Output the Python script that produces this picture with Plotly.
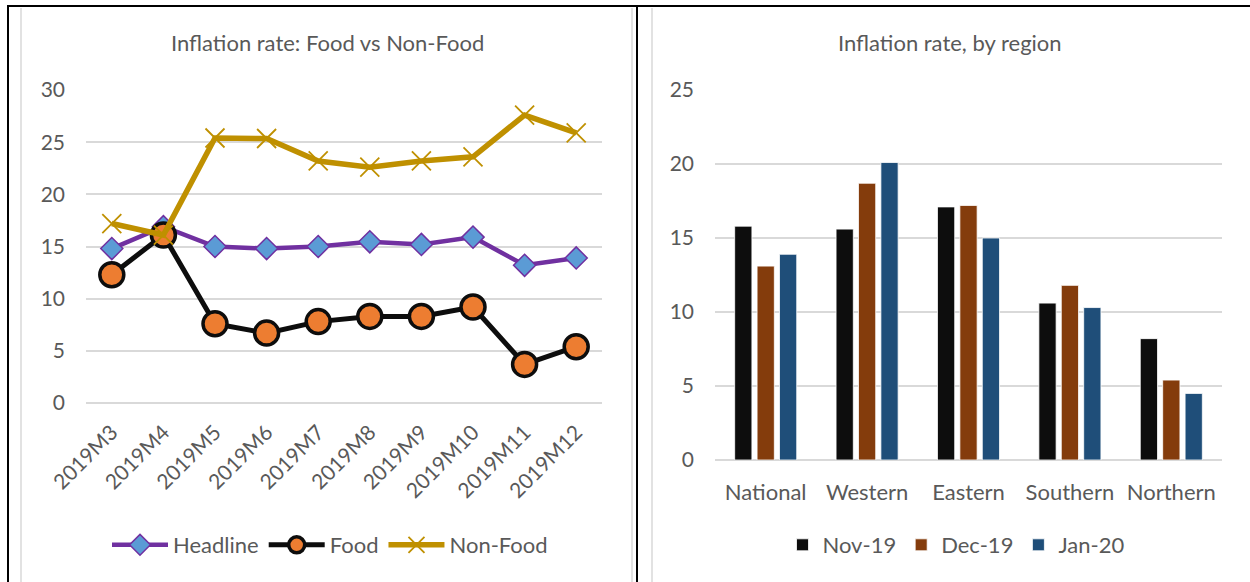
import plotly.graph_objects as go

W, H = 1250, 582

# ---- data: left chart ----
months = ["2019M3", "2019M4", "2019M5", "2019M6", "2019M7",
          "2019M8", "2019M9", "2019M10", "2019M11", "2019M12"]
headline = [14.8, 16.9, 15.0, 14.8, 15.0, 15.45, 15.2, 15.9, 13.2, 13.9]
food = [12.3, 16.1, 7.6, 6.7, 7.8, 8.3, 8.3, 9.2, 3.7, 5.4]
non_food = [17.2, 16.1, 25.4, 25.35, 23.2, 22.6, 23.2, 23.6, 27.6, 25.9]

# ---- data: right chart ----
regions = ["National", "Western", "Eastern", "Southern", "Northern"]
nov19 = [15.8, 15.6, 17.1, 10.6, 8.2]
dec19 = [13.1, 18.7, 17.2, 11.8, 5.4]
jan20 = [13.9, 20.1, 15.0, 10.3, 4.5]

FONT = "Lato, Carlito, Calibri, sans-serif"
GREY_TXT = "#595959"
GRID = "#d9d9d9"


def px(x):
    return x / W


def py(y):
    return 1 - y / H


fig = go.Figure()

fig.add_trace(go.Scatter(
    x=months, y=headline, name="Headline", mode="lines+markers",
    line=dict(color="#7030a0", width=4.5),
    marker=dict(symbol="diamond", size=17, color="#5b9bd5",
                line=dict(color="#7030a0", width=1.5)),
    xaxis="x", yaxis="y", legend="legend"))
fig.add_trace(go.Scatter(
    x=months, y=food, name="Food", mode="lines+markers",
    line=dict(color="#0d0d0d", width=5),
    marker=dict(symbol="circle", size=24, color="#ed7d31",
                line=dict(color="#0d0d0d", width=3.5)),
    xaxis="x", yaxis="y", legend="legend"))
fig.add_trace(go.Scatter(
    x=months, y=non_food, name="Non-Food", mode="lines+markers",
    line=dict(color="#bf9000", width=5.5),
    marker=dict(symbol="x-thin", size=19, color="#bf9000",
                line=dict(color="#bf9000", width=1.8)),
    xaxis="x", yaxis="y", legend="legend"))

for name, vals, col in [("Nov-19", nov19, "#0d0d0d"),
                        ("Dec-19", dec19, "#843c0c"),
                        ("Jan-20", jan20, "#1f4e79")]:
    fig.add_trace(go.Bar(
        x=regions, y=vals, name=name,
        marker=dict(color=col, line=dict(color="white", width=0.8)),
        xaxis="x2", yaxis="y2", legend="legend2"))

tickfont = dict(family=FONT, size=21, color=GREY_TXT)

fig.update_layout(
    width=W, height=H, autosize=False,
    margin=dict(l=0, r=0, t=0, b=0, pad=0, autoexpand=False),
    paper_bgcolor="white", plot_bgcolor="white",
    font=dict(family=FONT, color=GREY_TXT),
    barmode="group", bargap=0.337, bargroupgap=0.23,
    xaxis=dict(domain=[px(86), px(602)], type="category", range=[-0.5, 9.5],
               tickangle=-45, showgrid=False, showline=False, zeroline=False,
               ticks="", tickfont=tickfont, ticklabelstandoff=12,
               automargin=False, anchor="y"),
    yaxis=dict(domain=[py(403), py(90)], range=[0, 30], dtick=5,
               showgrid=True, gridcolor=GRID, gridwidth=1.5,
               zeroline=True, zerolinecolor=GRID, zerolinewidth=1.5,
               showline=False, ticks="", tickfont=tickfont,
               ticklabelstandoff=20, automargin=False, anchor="x"),
    xaxis2=dict(domain=[px(715), px(1222)], type="category",
                showgrid=False, showline=False, zeroline=False, ticks="",
                tickfont=dict(family=FONT, size=22, color=GREY_TXT),
                ticklabelstandoff=17, automargin=False, anchor="y2"),
    yaxis2=dict(domain=[py(460), py(90)], range=[0, 25], dtick=5,
                showgrid=True, gridcolor=GRID, gridwidth=1.5,
                zeroline=True, zerolinecolor=GRID, zerolinewidth=1.5,
                showline=False, ticks="", tickfont=tickfont,
                ticklabelstandoff=20, automargin=False, anchor="x2"),
    legend=dict(orientation="h", x=px(330), y=py(545), xanchor="center",
                yanchor="middle", font=dict(family=FONT, size=22, color=GREY_TXT),
                bgcolor="rgba(0,0,0,0)", itemwidth=56),
    legend2=dict(orientation="h", x=px(956), y=py(545), xanchor="center",
                 yanchor="middle", font=dict(family=FONT, size=22, color=GREY_TXT),
                 bgcolor="rgba(0,0,0,0)"),
    showlegend=True,
)

# chart titles
fig.add_annotation(text="Inflation rate: Food vs Non-Food", x=px(327), y=py(43),
                   xref="paper", yref="paper", showarrow=False,
                   xanchor="center", yanchor="middle",
                   font=dict(family=FONT, size=22, color=GREY_TXT))
fig.add_annotation(text="Inflation rate, by region", x=px(950), y=py(43),
                   xref="paper", yref="paper", showarrow=False,
                   xanchor="center", yanchor="middle",
                   font=dict(family=FONT, size=22, color=GREY_TXT))

# chart-area borders (light grey)
for x0 in (21, 632, 652):
    fig.add_shape(type="line", xref="paper", yref="paper",
                  x0=px(x0), x1=px(x0), y0=py(8), y1=0,
                  line=dict(color=GRID, width=1.5))
# table borders (black)
fig.add_shape(type="line", xref="paper", yref="paper",
              x0=px(7), x1=1, y0=py(6), y1=py(6),
              line=dict(color="black", width=2))
for x0 in (8, 637):
    fig.add_shape(type="line", xref="paper", yref="paper",
                  x0=px(x0), x1=px(x0), y0=py(6), y1=0,
                  line=dict(color="black", width=2))

fig.write_html(
    "out.html",
    config={"responsive": False, "displayModeBar": False},
    post_script="document.body.style.margin='0';document.body.style.overflow='hidden';",
)
